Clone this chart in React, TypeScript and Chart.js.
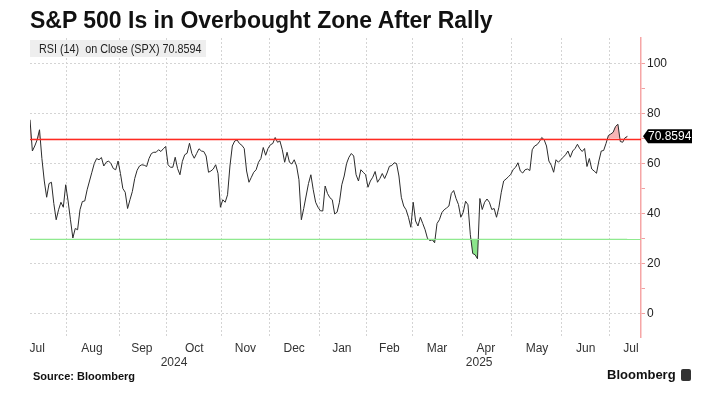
import React, { useEffect, useRef } from 'react';
import { Chart, registerables } from 'chart.js';

Chart.register(...registerables);

// RSI(14) on SPX close, one value per trading day (10 Jul 2024 - 11 Jul 2025)
const rsiValues: number[] = [
  77.5, 65, 67, 69.5, 73.5, 62, 53, 46.5, 52, 52.5,
  44, 37.5, 41.5, 44.5, 42.5, 51.5, 45, 37.5, 30.2, 34,
  33.5, 41.5, 44.8, 45, 49.5, 53, 56.5, 60, 62, 61.5,
  62.4, 59, 60.5, 61, 60, 58, 57.5, 61, 56, 50,
  48.5, 42, 45.5, 48.8, 54, 57.3, 59, 59.5, 59.3, 58.8,
  62, 64, 64.5, 64.5, 65.5, 64.8, 65.9, 66.8, 59.5, 58.5,
  58.5, 62.5, 58, 55.5, 60.8, 63.5, 64.1, 68.1, 64, 62.1,
  64, 65.9, 65, 64.8, 63, 56.5, 57, 57.8, 59.5, 56,
  42.5, 45.5, 44.5, 47.5, 59, 67, 69, 69.4, 68, 67.3,
  66, 57, 52.5, 54.5, 56.5, 57.5, 60.5, 62, 66.4, 63.3,
  66, 67.5, 68, 70.4, 68.5, 69, 65.5, 60.5, 64.5, 60.5,
  59.8, 61.5, 59, 53.5, 37.5, 42, 47, 52, 55.5, 49.5,
  44.5, 42.5, 41.1, 41, 51, 48, 46.3, 45.5, 39.8, 40.5,
  44.5, 51.5, 55, 60, 62.5, 64, 63, 55.5, 53, 57.5,
  56.5, 55.5, 50.5, 53, 54.5, 56.8, 52.5, 54, 56, 54,
  56.2, 58.9, 59.2, 60.3, 60, 55, 46.5, 43, 41.5, 38.5,
  34.5, 44.5, 37, 35, 38.5, 36, 33.5, 30, 29.2, 29.5,
  28.3, 36, 37.5, 40.3, 41.5, 42.2, 43, 48, 49.2, 46,
  43.6, 38.5, 40.5, 44.9, 43.5, 31.5, 24, 23.5, 21.9, 46,
  41.6, 44.5, 45.8, 44.5, 41.6, 42, 38.5, 42.5, 48.5, 53,
  53.8, 54.7, 55.7, 57.6, 58.5, 60.3, 57, 56.2, 57.5, 57.8,
  57.2, 65.5, 67, 67.5, 68.7, 70.4, 69.5, 67, 61, 59.3,
  56.5, 61.5, 60.5, 61.5, 62.5, 63.5, 65, 62.5, 65, 66,
  67.7, 65.9, 64.8, 66, 58.8, 62, 57.8, 57, 56.1, 61,
  65, 65.2, 68, 71.2, 71.8, 72.5, 74.8, 75.7, 68.8, 68.5,
  70.3, 70.8594,
];

const monthLabels = ['Jul', 'Aug', 'Sep', 'Oct', 'Nov', 'Dec', 'Jan', 'Feb', 'Mar', 'Apr', 'May', 'Jun', 'Jul'];
// label positions (trading-day index) and month boundaries (between trading days)
const monthLabelPos = [3, 26, 47, 69, 90.5, 111, 131, 151, 171, 191.5, 213, 233.5, 252.5];
const monthBoundaries = [15.5, 37.5, 57.5, 80.5, 100.5, 121.5, 141.5, 160.5, 181.5, 202.5, 223.5, 243.5];
const yearLabels = ['2024', '2025'];
const yearLabelPos = [60.5, 188.7];
const yTickValues = [0, 10, 20, 30, 40, 50, 60, 70, 80, 90, 100];
const overbought = 70;
const oversold = 30;
const lastValue = 70.8594;
const xMin = 0;
const xMax = 256.7;
const yMin = -9.4;
const yMax = 110.2;

const SANS = "'Liberation Sans', Arial, sans-serif";

const refLinesPlugin = {
  id: 'refLines',
  afterDatasetsDraw(chart: any) {
    const { ctx, chartArea: a, scales } = chart;
    const y = scales.y;
    ctx.save();
    const lines: [number, string, number][] = [
      [overbought, '#ff2a22', 1.5],
      [oversold, '#8fea8f', 1.2],
    ];
    lines.forEach(([v, c, w]) => {
      const py = Math.round(y.getPixelForValue(v)) + 0.5;
      ctx.lineWidth = w;
      ctx.strokeStyle = c;
      ctx.beginPath();
      ctx.moveTo(a.left, py);
      ctx.lineTo(a.right, py);
      ctx.stroke();
    });
    ctx.restore();
  },
};

const valueTagPlugin = {
  id: 'valueTag',
  afterDraw(chart: any) {
    const { ctx, chartArea: a, scales } = chart;
    const py = scales.y.getPixelForValue(lastValue);
    const x0 = a.right + 2;
    ctx.save();
    ctx.fillStyle = '#000';
    ctx.beginPath();
    ctx.moveTo(x0, py);
    ctx.lineTo(x0 + 5, py - 7);
    ctx.lineTo(x0 + 49, py - 7);
    ctx.lineTo(x0 + 49, py + 7);
    ctx.lineTo(x0 + 5, py + 7);
    ctx.closePath();
    ctx.fill();
    ctx.fillStyle = '#fff';
    ctx.font = `12px ${SANS}`;
    ctx.textBaseline = 'middle';
    ctx.textAlign = 'left';
    ctx.fillText(lastValue.toFixed(4), x0 + 5, py + 0.5);
    ctx.restore();
  },
};

export default function App() {
  const canvasRef = useRef<HTMLCanvasElement | null>(null);

  useEffect(() => {
    if (!canvasRef.current) return;
    const points = rsiValues.map((v, i) => ({ x: i, y: v }));
    const chart = new Chart(canvasRef.current, {
      type: 'line',
      data: {
        datasets: [
          {
            label: 'RSI',
            data: points,
            borderColor: '#2b2b2b',
            borderWidth: 1,
            pointRadius: 0,
            fill: false,
            tension: 0,
            xAxisID: 'xg',
            yAxisID: 'y',
            order: 0,
          },
          {
            label: 'over',
            data: points,
            borderWidth: 0,
            borderColor: 'rgba(0,0,0,0)',
            pointRadius: 0,
            tension: 0,
            fill: { value: overbought, above: 'rgba(240,120,120,0.55)', below: 'rgba(0,0,0,0)' },
            xAxisID: 'xg',
            yAxisID: 'y',
            order: 1,
          },
          {
            label: 'under',
            data: points,
            borderWidth: 0,
            borderColor: 'rgba(0,0,0,0)',
            pointRadius: 0,
            tension: 0,
            fill: { value: oversold, above: 'rgba(0,0,0,0)', below: 'rgba(100,220,100,0.75)' },
            xAxisID: 'xg',
            yAxisID: 'y',
            order: 2,
          },
        ],
      },
      options: {
        responsive: false,
        animation: false,
        events: [],
        layout: { padding: { left: 30, top: 38, right: 0, bottom: 27 } },
        plugins: {
          legend: { display: false },
          tooltip: { enabled: false },
          title: { display: false },
        },
        scales: {
          xg: {
            type: 'linear',
            position: 'bottom',
            min: xMin,
            max: xMax,
            weight: 0,
            afterBuildTicks: (s: any) => {
              s.ticks = monthBoundaries.map((v) => ({ value: v }));
            },
            afterFit: (s: any) => {
              s.height = 4;
            },
            ticks: { display: false },
            grid: { color: '#d4d4d4', lineWidth: 1, drawTicks: false },
            border: { display: false, dash: [2, 2] },
          },
          xm: {
            type: 'linear',
            position: 'bottom',
            min: xMin,
            max: xMax,
            weight: 1,
            afterBuildTicks: (s: any) => {
              s.ticks = monthLabelPos.map((v) => ({ value: v }));
            },
            afterFit: (s: any) => {
              s.height = 14;
            },
            ticks: {
              autoSkip: false,
              maxRotation: 0,
              padding: 0,
              color: '#333',
              font: { family: SANS, size: 12 },
              callback: (_v: any, i: number) => monthLabels[i],
            },
            grid: { display: false, drawTicks: false },
            border: { display: false },
          },
          xy: {
            type: 'linear',
            position: 'bottom',
            min: xMin,
            max: xMax,
            weight: 2,
            afterBuildTicks: (s: any) => {
              s.ticks = yearLabelPos.map((v) => ({ value: v }));
            },
            afterFit: (s: any) => {
              s.height = 14;
            },
            ticks: {
              autoSkip: false,
              maxRotation: 0,
              padding: 0,
              color: '#333',
              font: { family: SANS, size: 12 },
              callback: (_v: any, i: number) => yearLabels[i],
            },
            grid: { display: false, drawTicks: false },
            border: { display: false },
          },
          y: {
            type: 'linear',
            position: 'right',
            min: yMin,
            max: yMax,
            afterBuildTicks: (s: any) => {
              s.ticks = yTickValues.map((v) => ({ value: v }));
            },
            afterFit: (s: any) => {
              s.width = 76;
            },
            ticks: {
              autoSkip: false,
              padding: 2,
              color: '#222',
              font: { family: SANS, size: 12 },
              callback: (v: any) => (Number(v) % 20 === 0 ? String(v) : ''),
            },
            grid: {
              color: (c: any) =>
                c.tick && Number(c.tick.value) % 20 === 0 ? '#d4d4d4' : 'rgba(0,0,0,0)',
              tickColor: '#f3a0a0',
              tickLength: 4,
              tickWidth: 1,
              lineWidth: 1,
              drawTicks: true,
            },
            border: { display: true, color: '#f6a6a6', width: 1.5, dash: [2, 2] },
          },
        },
      },
      plugins: [refLinesPlugin, valueTagPlugin],
    } as any);
    return () => chart.destroy();
  }, []);

  return (
    <div
      style={{
        position: 'absolute',
        left: 0,
        top: 0,
        width: 717,
        height: 396,
        background: '#fff',
        overflow: 'hidden',
      }}
    >
      <canvas ref={canvasRef} width={717} height={396} style={{ display: 'block' }} />
      <div
        style={{
          position: 'absolute',
          left: 30,
          top: 7,
          fontFamily: SANS,
          fontWeight: 700,
          fontSize: 23,
          lineHeight: '26px',
          color: '#111',
          whiteSpace: 'nowrap',
        }}
      >
        S&amp;P 500 Is in Overbought Zone After Rally
      </div>
      <div
        style={{
          position: 'absolute',
          left: 30,
          top: 40,
          width: 176,
          height: 17,
          background: '#eeeeee',
          display: 'flex',
          alignItems: 'center',
          fontFamily: SANS,
          fontSize: 13,
          color: '#222',
          whiteSpace: 'nowrap',
        }}
      >
        <span
          style={{ display: 'inline-block', width: 6, height: 6, background: '#111', marginLeft: 6, marginRight: 3 }}
        />
        <span style={{ display: 'inline-block', transform: 'scaleX(0.83)', transformOrigin: 'left center' }}>
          RSI (14)&nbsp; on Close (SPX) 70.8594
        </span>
      </div>
      <div
        style={{
          position: 'absolute',
          left: 33,
          top: 369,
          fontFamily: SANS,
          fontWeight: 700,
          fontSize: 11,
          lineHeight: '14px',
          color: '#111',
          whiteSpace: 'nowrap',
        }}
      >
        Source: Bloomberg
      </div>
      <div
        style={{
          position: 'absolute',
          left: 607,
          top: 366,
          fontFamily: SANS,
          fontWeight: 700,
          fontSize: 13,
          lineHeight: '18px',
          color: '#111',
          whiteSpace: 'nowrap',
          display: 'flex',
          alignItems: 'center',
        }}
      >
        <span>Bloomberg</span>
        <span
          style={{
            display: 'inline-block',
            width: 10,
            height: 12,
            background: '#333',
            borderRadius: 2,
            marginLeft: 5,
          }}
        />
      </div>
    </div>
  );
}
